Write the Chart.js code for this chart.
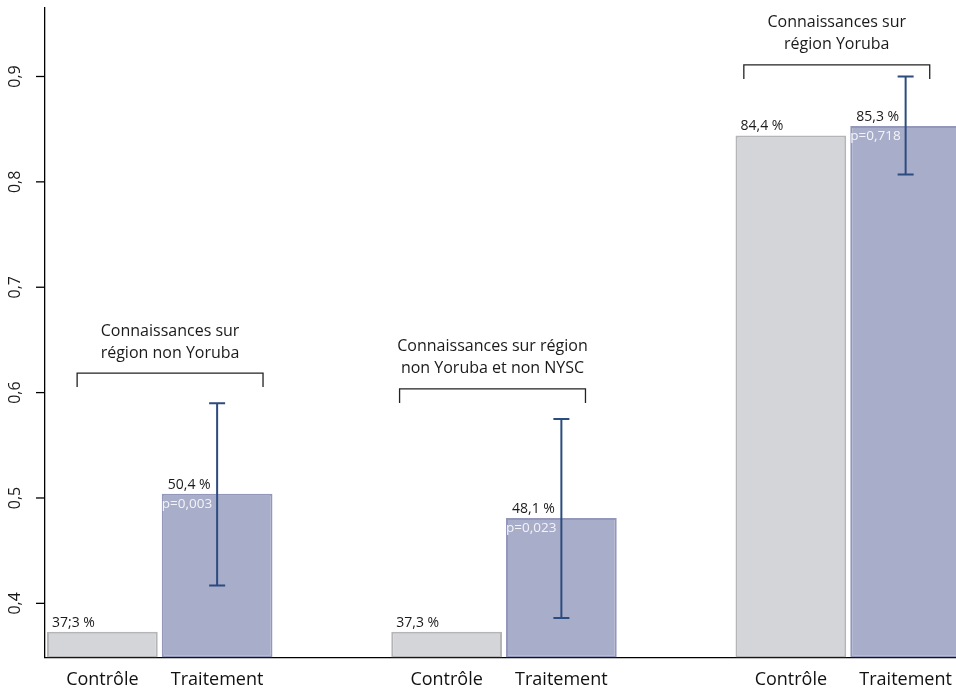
<!DOCTYPE html>
<html>
<head>
<meta charset="utf-8">
<script src="https://cdn.jsdelivr.net/npm/chart.js@4.4.0/dist/chart.umd.min.js"></script>
<style>
	html, body { margin: 0; padding: 0; overflow: hidden; background: #fff; width: 956px; height: 693px; }
	canvas { display: block; }
</style>
</head>
<body>
<canvas id="myChart" width="964" height="703"></canvas>
<script>
// data
var CATEGORIES = ['Contrôle', 'Traitement'];
var GROUPS = [
	['Connaissances sur', 'région non Yoruba'],
	['Connaissances sur région', 'non Yoruba et non NYSC'],
	['Connaissances sur', 'région Yoruba']
];
var CONTROLE = [0.373, 0.373, 0.844];
var TRAITEMENT = [0.504, 0.481, 0.853];
var ERR_LOW = [0.417, 0.386, 0.807];
var ERR_HIGH = [0.590, 0.575, 0.900];
var CONTROLE_LABELS = ['37;3 %', '37,3 %', '84,4 %'];
var TRAITEMENT_LABELS = ['50,4 %', '48,1 %', '85,3 %'];
var P_VALUES = ['p=0,003', 'p=0,023', 'p=0,718'];
var Y_TICKS = [0.4, 0.5, 0.6, 0.7, 0.8, 0.9];
var Y_MIN = 0.3487;
var Y_MAX = 0.965;

// brackets above each group (x in category units from the Contrôle bar, y in data units)
var BRACKET_X = [[-0.22, 1.40], [-0.41, 1.21], [-0.41, 1.21]];
var BRACKET_Y = [0.6185, 0.6035, 0.911];

var FONT = "'Open Sans', 'DejaVu Sans', sans-serif";

// chart.js needs one label per slot, with an empty slot between groups
var labels = [];
var controleData = [];
var traitementData = [];
var controleIndex = [];
for (var g = 0; g < GROUPS.length; g++) {
	controleIndex.push(labels.length);
	labels.push(CATEGORIES[0], CATEGORIES[1]);
	controleData.push(CONTROLE[g], null);
	traitementData.push(null, TRAITEMENT[g]);
	if (g < GROUPS.length - 1) {
		labels.push('');
		controleData.push(null);
		traitementData.push(null);
	}
}

// draws the axis ticks, error bars, value labels and brackets
var annotations = {
	id: 'annotations',
	afterDatasetsDraw: function(chart) {
		var ctx = chart.ctx;
		var x = chart.scales.x;
		var y = chart.scales.y;
		var area = chart.chartArea;
		ctx.save();

		// y ticks, labels rotated
		ctx.strokeStyle = '#000';
		ctx.lineWidth = 1.3;
		ctx.fillStyle = '#1a1a1a';
		ctx.font = '16px ' + FONT;
		ctx.textAlign = 'center';
		ctx.textBaseline = 'middle';
		for (var i = 0; i < Y_TICKS.length; i++) {
			var ty = y.getPixelForValue(Y_TICKS[i]);
			ctx.beginPath();
			ctx.moveTo(area.left - 9, ty);
			ctx.lineTo(area.left, ty);
			ctx.stroke();
			ctx.save();
			ctx.translate(area.left - 30, ty);
			ctx.rotate(-Math.PI / 2);
			ctx.fillText(Y_TICKS[i].toFixed(1).replace('.', ','), 0, 0);
			ctx.restore();
		}

		var metaC = chart.getDatasetMeta(0);
		var metaT = chart.getDatasetMeta(1);

		for (var g = 0; g < GROUPS.length; g++) {
			var ci = controleIndex[g];
			var barC = metaC.data[ci];
			var barT = metaT.data[ci + 1];

			// value labels above the bars
			ctx.fillStyle = '#1a1a1a';
			ctx.font = '14px ' + FONT;
			ctx.textAlign = 'left';
			ctx.textBaseline = 'alphabetic';
			ctx.fillText(CONTROLE_LABELS[g], barC.x - barC.width / 2 + 5, barC.y - 5);
			ctx.fillText(TRAITEMENT_LABELS[g], barT.x - barT.width / 2 + 6, barT.y - 5);

			// p value inside the treatment bar
			ctx.fillStyle = '#f4f4f8';
			ctx.font = '13.5px ' + FONT;
			ctx.textBaseline = 'middle';
			ctx.fillText(P_VALUES[g], barT.x - barT.width / 2, barT.y + 10);

			// error bar
			var top = y.getPixelForValue(ERR_HIGH[g]);
			var bottom = y.getPixelForValue(ERR_LOW[g]);
			ctx.strokeStyle = '#2c4b7e';
			ctx.lineWidth = 2;
			ctx.beginPath();
			ctx.moveTo(barT.x, top);
			ctx.lineTo(barT.x, bottom);
			ctx.moveTo(barT.x - 8, top);
			ctx.lineTo(barT.x + 8, top);
			ctx.moveTo(barT.x - 8, bottom);
			ctx.lineTo(barT.x + 8, bottom);
			ctx.stroke();

			// bracket
			var unit = x.getPixelForValue(ci + 1) - x.getPixelForValue(ci);
			var bx0 = barC.x + BRACKET_X[g][0] * unit;
			var bx1 = barC.x + BRACKET_X[g][1] * unit;
			var by = y.getPixelForValue(BRACKET_Y[g]);
			ctx.strokeStyle = '#222';
			ctx.lineWidth = 1.3;
			ctx.beginPath();
			ctx.moveTo(bx0, by + 14);
			ctx.lineTo(bx0, by);
			ctx.lineTo(bx1, by);
			ctx.lineTo(bx1, by + 14);
			ctx.stroke();

			// group title
			ctx.fillStyle = '#1a1a1a';
			ctx.font = '16px ' + FONT;
			ctx.textAlign = 'center';
			ctx.textBaseline = 'middle';
			var cx = (bx0 + bx1) / 2;
			ctx.fillText(GROUPS[g][0], cx, by - 42);
			ctx.fillText(GROUPS[g][1], cx, by - 20);
		}
		ctx.restore();
	}
};

var ctx = document.getElementById('myChart');
var myChart = new Chart(ctx, {
	type: 'bar',
	data: {
		labels: labels,
		datasets: [{
			label: 'Contrôle',
			data: controleData,
			backgroundColor: '#d4d5d8',
			borderColor: '#b5b5b7',
			borderWidth: 2,
			borderSkipped: false,
			base: Y_MIN,
			grouped: false,
			categoryPercentage: 1,
			barPercentage: 0.965
		}, {
			label: 'Traitement',
			data: traitementData,
			backgroundColor: '#a8adc9',
			borderColor: '#9398ba',
			borderWidth: 2,
			borderSkipped: false,
			base: Y_MIN,
			grouped: false,
			categoryPercentage: 1,
			barPercentage: 0.965
		}]
	},
	options: {
		responsive: false,
		animation: false,
		devicePixelRatio: 1,
		layout: { padding: { left: 45, top: 8, right: 1, bottom: 0 } },
		plugins: {
			legend: { display: false },
			tooltip: { enabled: false }
		},
		scales: {
			x: {
				grid: { display: false, drawTicks: false },
				border: { display: true, color: '#000', width: 1.3 },
				ticks: {
					autoSkip: false,
					maxRotation: 0,
					padding: 12,
					color: '#111',
					font: { family: FONT, size: 18 }
				}
			},
			y: {
				min: Y_MIN,
				max: Y_MAX,
				grid: { display: false, drawTicks: false },
				border: { display: true, color: '#000', width: 1.3 },
				ticks: { display: false }
			}
		}
	},
	plugins: [annotations]
});
</script>
</body>
</html>
